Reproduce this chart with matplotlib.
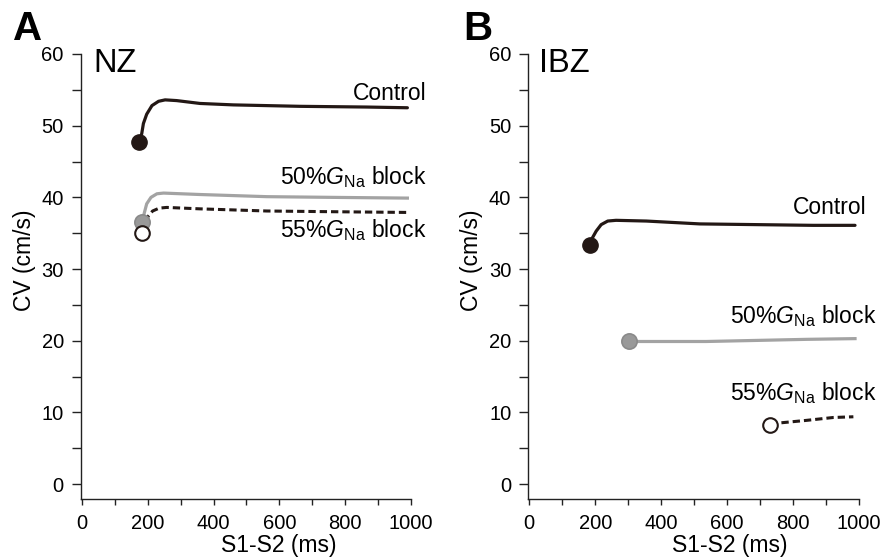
import matplotlib
matplotlib.use("Agg")
import matplotlib.pyplot as plt

plt.rcParams['font.family'] = ['Liberation Sans', 'DejaVu Sans']
plt.rcParams['mathtext.fontset'] = 'custom'
plt.rcParams['mathtext.rm'] = 'Liberation Sans'
plt.rcParams['mathtext.it'] = 'Liberation Sans:italic'

# S1-S2 interval (ms) and conduction velocity (cm/s)
# Panel A: NZ
nz_ctrl_x = [175, 182, 187, 197, 213, 233, 253, 288, 359, 460, 663, 865, 989]
nz_ctrl_y = [47.7, 48.9, 50.3, 51.6, 52.8, 53.4, 53.6, 53.5, 53.1, 52.9, 52.7, 52.6, 52.5]
nz_50_x = [182, 189, 197, 210, 228, 248, 359, 562, 764, 989]
nz_50_y = [36.5, 37.7, 39.1, 40.0, 40.5, 40.6, 40.4, 40.1, 40.0, 39.9]
nz_55_x = [182, 190, 202, 215, 235, 258, 359, 562, 764, 989]
nz_55_y = [35.1, 36.3, 37.4, 38.1, 38.5, 38.6, 38.4, 38.1, 38.0, 37.9]

# Panel B: IBZ
ibz_ctrl_x = [184, 192, 203, 218, 238, 263, 355, 517, 689, 861, 988]
ibz_ctrl_y = [33.4, 34.4, 35.3, 36.2, 36.7, 36.8, 36.7, 36.3, 36.2, 36.1, 36.1]
ibz_50_x = [301, 334, 537, 689, 841, 988]
ibz_50_y = [19.9, 19.9, 19.9, 20.05, 20.2, 20.3]
ibz_55_x = [731, 750, 841, 922, 983]
ibz_55_y = [8.3, 8.5, 8.9, 9.3, 9.4]

ctrl_label = 'Control'
lab50 = '50%$\\mathit{G}_{\\mathrm{Na}}$ block'
lab55 = '55%$\\mathit{G}_{\\mathrm{Na}}$ block'

dark = '#231815'
grey = '#a3a3a3'

fig = plt.figure(figsize=(8.82, 5.6), dpi=100)
axA = fig.add_axes([0.0913, 0.1098, 0.3747, 0.7938])
axB = fig.add_axes([0.5986, 0.1098, 0.3753, 0.7938])


def draw(ax, cx, cy, gx, gy, dx, dy, labels_pos, xlabel_x):
    ax.plot(cx, cy, color=dark, lw=2.3, solid_capstyle='round', zorder=3)
    ax.plot(gx, gy, color=grey, lw=2.3, zorder=2)
    ax.plot(dx, dy, color=dark, lw=2.2, ls=(0, (2.4, 1.3)), dash_capstyle='butt', zorder=3)
    ax.plot(cx[0], cy[0], 'o', ms=11, mfc=dark, mec=dark, zorder=4)
    ax.plot(gx[0], gy[0], 'o', ms=11, mfc='#999999', mec='#8a8a8a', mew=1.2, zorder=4)
    ax.plot(dx[0], dy[0], 'o', ms=10.5, mfc='white', mec=dark, mew=1.5, zorder=5)

    for (tx, ty), s in zip(labels_pos, [ctrl_label, lab50, lab55]):
        ax.text(tx, ty, s, ha='right', va='baseline', fontsize=16.5, clip_on=False)

    ax.set_xlim(-4, 1000)
    ax.set_ylim(-2, 60)
    ax.spines['top'].set_visible(False)
    ax.spines['right'].set_visible(False)
    ax.spines['left'].set_bounds(-2, 60)
    for sp in ('left', 'bottom'):
        ax.spines[sp].set_linewidth(1.0)
        ax.spines[sp].set_color('#222222')
    ax.set_xticks(range(0, 1001, 200))
    ax.set_xticks(range(100, 1000, 200), minor=True)
    ax.set_yticks(range(0, 61, 10))
    ax.set_yticks(range(5, 60, 10), minor=True)
    ax.tick_params(axis='y', which='both', length=6.5, width=1.0, labelsize=14.5, pad=5.5, color='#222222')
    ax.tick_params(axis='x', which='both', length=4.3, width=1.0, labelsize=14.5, pad=6.5, color='#222222')
    ax.set_xlabel('S1-S2 (ms)', fontsize=16.5)
    ax.set_ylabel('CV (cm/s)', fontsize=16.5)
    ax.xaxis.set_label_coords(xlabel_x, -0.08)
    ax.yaxis.set_label_coords(-0.135, 0.535)


draw(axA, nz_ctrl_x, nz_ctrl_y, nz_50_x, nz_50_y, nz_55_x, nz_55_y,
     [(1048, 53.6), (1048, 41.8), (1048, 34.4)], 0.599)
draw(axB, ibz_ctrl_x, ibz_ctrl_y, ibz_50_x, ibz_50_y, ibz_55_x, ibz_55_y,
     [(1023, 37.7), (1052, 22.4), (1052, 11.7)], 0.61)

fig.text(13 / 882, 1 - 40 / 560, 'A', fontsize=29, fontweight='bold', va='baseline', ha='left')
fig.text(463 / 882, 1 - 40 / 560, 'B', fontsize=29, fontweight='bold', va='baseline', ha='left')
fig.text(93 / 882, 1 - 72 / 560, 'NZ', fontsize=23.5, va='baseline', ha='left')
fig.text(539 / 882, 1 - 72 / 560, 'IBZ', fontsize=23.5, va='baseline', ha='left')

fig.savefig('out.png', dpi=100)
